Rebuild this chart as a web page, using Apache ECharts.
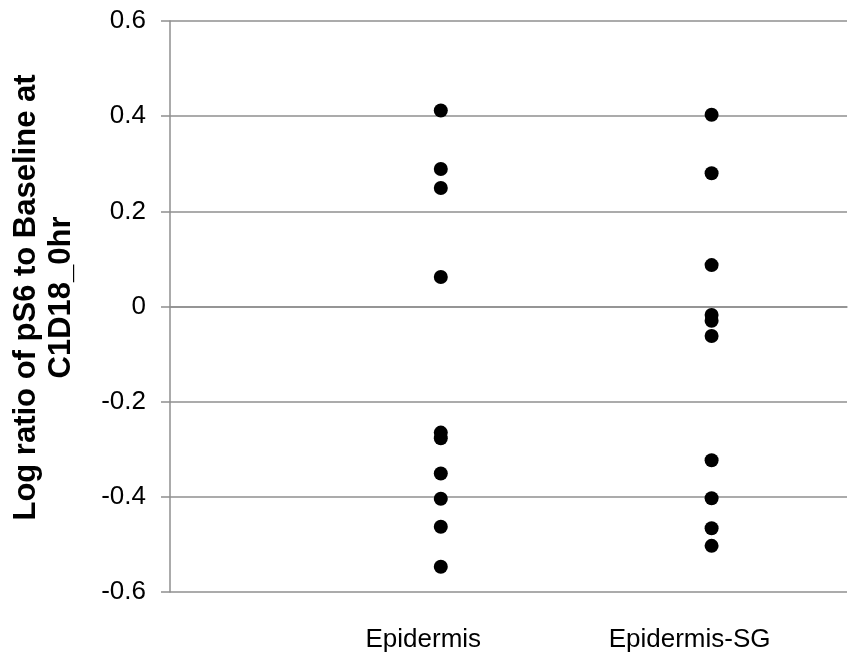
<!DOCTYPE html>
<html>
<head>
<meta charset="utf-8">
<script src="https://cdn.jsdelivr.net/npm/echarts@6/dist/echarts.min.js"></script>
<style>html,body{margin:0;padding:0;background:#fff;}#c{width:850px;height:655px;}</style>
</head>
<body>
<div id="c"></div>
<script>
const categories = ['Epidermis', 'Epidermis-SG'];
const categoryPositions = [1, 2];
const epidermisValues = [0.412, 0.289, 0.249, 0.062, -0.265, -0.277, -0.351, -0.404, -0.463, -0.547];
const epidermisSGValues = [0.403, 0.280, 0.087, -0.018, -0.030, -0.062, -0.323, -0.403, -0.466, -0.503];
const yTicks = [-0.6, -0.4, -0.2, 0, 0.2, 0.4, 0.6];

const seriesValues = [epidermisValues, epidermisSGValues];
const chart = echarts.init(document.getElementById('c'));
const gray = '#8f8f8f';
const font = 'Liberation Sans, Arial, sans-serif';
chart.setOption({
  animation: false,
  grid: { left: 170, right: 2, top: 21, bottom: 63 },
  xAxis: {
    type: 'value', min: 0, max: 2.5, interval: 1,
    axisLine: { show: true, lineStyle: { color: gray, width: 1.5 } },
    axisTick: { show: false },
    splitLine: { show: false },
    axisLabel: {
      color: '#000', fontFamily: font, fontSize: 26, margin: 35,
      formatter: function (v) {
        const i = categoryPositions.indexOf(v);
        return i >= 0 ? '{c' + i + '|' + categories[i] + '}' : '';
      },
      rich: {
        c0: { color: '#000', fontFamily: font, fontSize: 26, padding: [0, 35, 0, 0] },
        c1: { color: '#000', fontFamily: font, fontSize: 26, padding: [0, 44, 0, 0] }
      }
    }
  },
  yAxis: {
    type: 'value', min: yTicks[0], max: yTicks[yTicks.length - 1], interval: 0.2,
    name: 'Log ratio of pS6 to Baseline at\nC1D18_0hr',
    nameLocation: 'middle', nameGap: 91,
    nameTextStyle: { color: '#000', fontFamily: font, fontSize: 31, fontWeight: 'bold', lineHeight: 35, padding: [0, 0, 0, 18] },
    axisLine: { show: true, lineStyle: { color: gray, width: 1.5 } },
    axisTick: { show: true, length: 9, lineStyle: { color: gray, width: 1.5 } },
    splitLine: { show: true, lineStyle: { color: gray, width: 1.5 } },
    axisLabel: {
      color: '#000', fontFamily: font, fontSize: 26, margin: 24,
      formatter: function (v) { return String(Math.round(v * 10) / 10); }
    }
  },
  series: seriesValues.map(function (vals, i) {
    return {
      type: 'scatter', symbol: 'circle', symbolSize: 14,
      itemStyle: { color: '#000', opacity: 1 },
      data: vals.map(function (v) { return [categoryPositions[i], v]; })
    };
  })
});
</script>
</body>
</html>
